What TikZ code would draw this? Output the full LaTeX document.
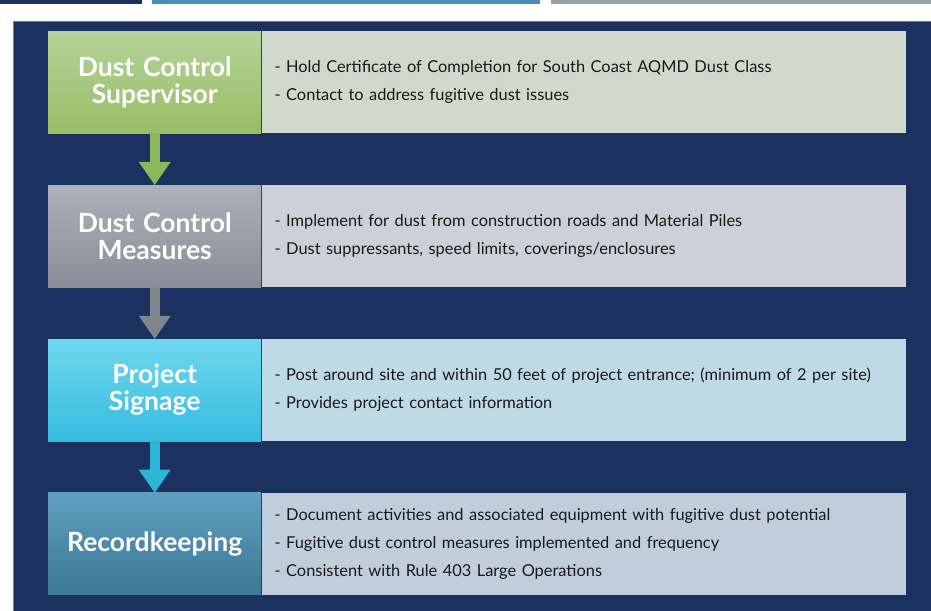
\documentclass[tikz,border=0pt]{standalone}
\usepackage{fontspec}
\setmainfont{Lato}
\usetikzlibrary{positioning,arrows.meta}

\definecolor{panelnavy}{HTML}{1B3160}
\definecolor{barblue}{HTML}{4A8DB8}
\definecolor{bargray}{HTML}{9AA0A8}
\definecolor{greentop}{HTML}{B5D39A}
\definecolor{greenbot}{HTML}{98BD64}
\definecolor{greennote}{HTML}{CFDACC}
\definecolor{greenarrow}{HTML}{8DB85A}
\definecolor{graytop}{HTML}{ABB1B8}
\definecolor{graybot}{HTML}{878E97}
\definecolor{graynote}{HTML}{CDD0D8}
\definecolor{grayarrow}{HTML}{7F868E}
\definecolor{cyantop}{HTML}{6FD7EF}
\definecolor{cyanbot}{HTML}{36BCDF}
\definecolor{cyannote}{HTML}{BEDAE6}
\definecolor{cyanarrow}{HTML}{2CB5D6}
\definecolor{bluetop}{HTML}{609FC0}
\definecolor{bluebot}{HTML}{3C7796}
\definecolor{bluenote}{HTML}{C0CEDB}

\tikzset{
    stagebox/.style = {minimum width = 213pt, minimum height = 102pt, text width = 207pt,
        inner sep = 0pt, align = center, text = white,
        font = \bfseries\fontsize{26.5}{27}\selectfont},
    notebox/.style = {minimum width = 644pt, minimum height = 102pt, text width = 618pt,
        inner xsep = 13pt, inner ysep = 0pt, align = left, text = black!90,
        font = \fontsize{16.4}{28}\selectfont},
    flow/.style = {line width = 10pt, -{Triangle[width = 32pt, length = 23pt, line width = 0pt]}}
}

\begin{document}
\begin{tikzpicture}[x = 1pt, y = -1pt]
    \useasboundingbox [fill = white] (0,0) rectangle (931,610);

    \fill [panelnavy] (0,0) rectangle (142,4);
    \fill [barblue]   (152,0) rectangle (540,4);
    \fill [bargray]   (551,0) rectangle (931,4);

    \path [fill = panelnavy, draw = bargray!70!panelnavy, line width = 1] (13.5,21.5) rectangle (935,615);

    \node [stagebox, top color = greentop, bottom color = greenbot, anchor = north west] (sup) at (48,31) {Dust Control\\Supervisor};
    \node [notebox, fill = greennote, right = 0pt of sup] (supnote)
        {- Hold Certificate of Completion for South Coast AQMD Dust Class\\
         - Contact to address fugitive dust issues};

    \node [stagebox, top color = graytop, bottom color = graybot, below = 51.5pt of sup] (meas) {Dust Control\\Measures};
    \node [notebox, fill = graynote, right = 0pt of meas] (measnote)
        {- Implement for dust from construction roads and Material Piles\\
         - Dust suppressants, speed limits, coverings/enclosures};

    \node [stagebox, top color = cyantop, bottom color = cyanbot, below = 51.5pt of meas] (sign) {Project\\Signage};
    \node [notebox, fill = cyannote, right = 0pt of sign] (signnote)
        {- Post around site and within 50 feet of project entrance; (minimum of 2 per site)\\
         - Provides project contact information};

    \node [stagebox, top color = bluetop, bottom color = bluebot, below = 51.5pt of sign] (rec) {Recordkeeping};
    \node [notebox, fill = bluenote, right = 0pt of rec] (recnote)
        {- Document activities and associated equipment with fugitive dust potential\\
         - Fugitive dust control measures implemented and frequency\\
         - Consistent with Rule 403 Large Operations};

    \draw [flow, draw = greenarrow] (sup.south)  -- (meas.north);
    \draw [flow, draw = grayarrow]  (meas.south) -- (sign.north);
    \draw [flow, draw = cyanarrow]  (sign.south) -- (rec.north);
\end{tikzpicture}
\end{document}
